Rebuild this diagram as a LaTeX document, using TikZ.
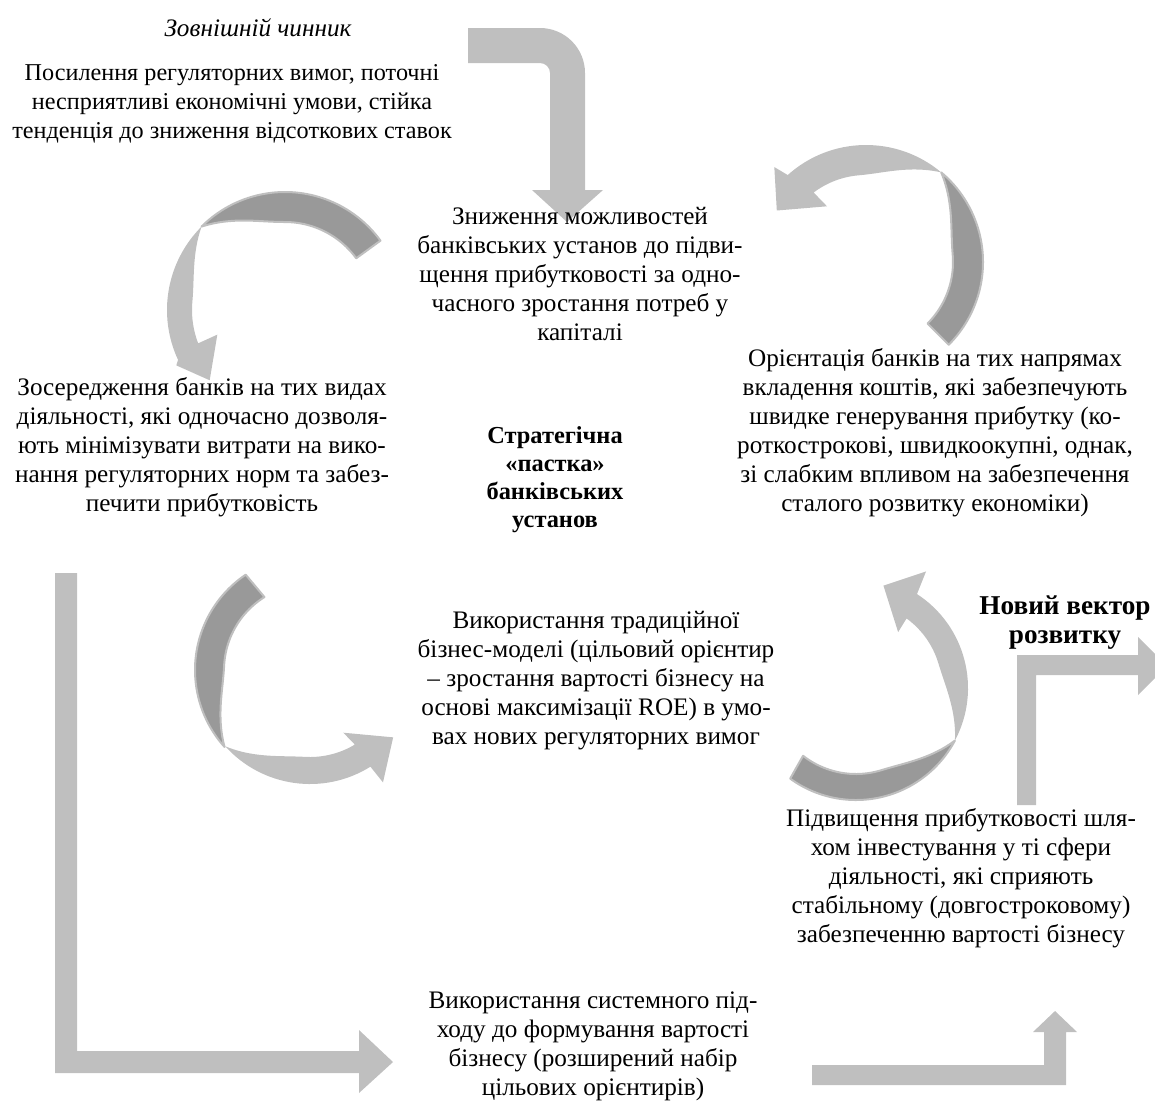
\documentclass[tikz,border=0pt]{standalone}
\usepackage{fontspec}
\setmainfont{Liberation Serif}
\definecolor{arrowlight}{RGB}{191,191,191}
\definecolor{arrowdark}{RGB}{153,153,153}
\begin{document}
\begin{tikzpicture}[x=0.5pt,y=-0.5pt,font=\fontsize{12.6}{14.5}\selectfont]
      \tikzstyle{plain text}=[align=center,inner sep=0pt]
      \tikzstyle{bold text}=[plain text,font=\fontsize{12.2}{14}\selectfont\bfseries]
      \tikzstyle{block arrow}=[fill=arrowlight]
      \tikzstyle{ribbon front}=[fill=arrowlight]
      \tikzstyle{ribbon back}=[fill=arrowdark,draw=arrowlight,line width=1pt,line join=round]

      \useasboundingbox (0,0) rectangle (1155,1109);

      % block arrows
      \fill[block arrow] (468,28) -- (540,28) arc[start angle=-90,end angle=0,radius=45]
          -- (585,190) -- (603,190) -- (567,222) -- (532,190) -- (550,190) -- (550,73)
          arc[start angle=0,end angle=-90,radius=10] -- (468,63) -- cycle;
      \fill[block arrow] (55,573) -- (55,1073) -- (359,1073) -- (359,1093) -- (393,1062)
          -- (359,1030) -- (359,1051) -- (77,1051) -- (77,573) -- cycle;
      \fill[block arrow] (812,1065) -- (1044,1065) -- (1044,1032) -- (1033,1032) -- (1055,1011)
          -- (1077,1032) -- (1066,1032) -- (1066,1085) -- (812,1085) -- cycle;
      \fill[block arrow] (1017,805) -- (1017,655) -- (1138,655) -- (1138,637) -- (1167,666)
          -- (1138,695) -- (1138,675) -- (1036,675) -- (1036,805) -- cycle;

      % circular arrows
      \begin{scope}[shift={(285,310)}]
          \fill[ribbon front] (-135:118) arc[start angle=-135,end angle=-205,radius=118]
              -- (-207:122) -- (-223:103) -- (-200:72) -- (-201:93)
              -- plot[domain=-201:-135,samples=40] (\x:{118-25*sin(min(90,(-135-\x)*2.25))}) -- cycle;
          \filldraw[ribbon back] (-36:118) arc[start angle=-36,end angle=-135,radius=118]
              -- plot[domain=-135:-36,samples=40] (\x:{118-30*sin(min(90,(\x+135)*2))}) -- cycle;
      \end{scope}
      \begin{scope}[shift={(866,262)}]
          \fill[ribbon front] (-50:117) arc[start angle=-50,end angle=-132,radius=117]
              -- (-134:132) -- (-150:103) -- (-125:68) -- (-127:87)
              -- plot[domain=-127:-50,samples=40] (\x:{117-30*sin(min(90,(-50-\x)*2))}) -- cycle;
          \filldraw[ribbon back] (45:117) arc[start angle=45,end angle=-50,radius=117]
              -- plot[domain=-50:45,samples=40] (\x:{117-30*sin(min(90,(\x+50)*2))}) -- cycle;
      \end{scope}
      \begin{scope}[shift={(310,670)}]
          \fill[ribbon front] (138:114) arc[start angle=138,end angle=58,radius=114]
              -- (57:134) -- (39:107) -- (62:71) -- (59:87)
              -- plot[domain=59:138,samples=40] (\x:{114-27*sin(min(90,(138-\x)*2))}) -- cycle;
          \filldraw[ribbon back] (236:115) arc[start angle=236,end angle=138,radius=115]
              -- plot[domain=138:238,samples=40] (\x:{115-29*sin(min(90,(\x-138)*2))}) -- cycle;
      \end{scope}
      \begin{scope}[shift={(856,688)}]
          \fill[ribbon front] (28:112) arc[start angle=28,end angle=-57,radius=112]
              -- (-59:136) -- (-75:106) -- (-53:70) -- (-54:86)
              -- plot[domain=-54:28,samples=40] (\x:{112-26*sin(min(90,(28-\x)*2))}) -- cycle;
          \filldraw[ribbon back] (126:112) arc[start angle=126,end angle=28,radius=112]
              -- plot[domain=28:128,samples=40] (\x:{112-26*sin(min(90,(\x-28)*2))}) -- cycle;
      \end{scope}

      % texts
      \node (factor) [plain text,font=\fontsize{12.6}{14.5}\selectfont\itshape] at (258,28) {Зовнішній чинник};
      \node (external) [plain text,font=\fontsize{12.1}{14.5}\selectfont] at (232,104) {Посилення регуляторних вимог, поточні\\несприятливі економічні умови, стійка\\тенденція до зниження відсоткових ставок};
      \node (decline) [plain text] at (580,274) {Зниження можливостей\\банківських установ до підви-\\щення прибутковості за одно-\\часного зростання потреб у\\капіталі};
      \node (orient) [plain text] at (935,433) {Орієнтація банків на тих напрямах\\вкладення коштів, які забезпечують\\швидке генерування прибутку (ко-\\роткострокові, швидкоокупні, однак,\\зі слабким впливом на забезпечення\\сталого розвитку економіки)};
      \node (focus) [plain text] at (202,447) {Зосередження банків на тих видах\\діяльності, які одночасно дозволя-\\ють мінімізувати витрати на вико-\\нання регуляторних норм та забез-\\печити прибутковість};
      \node (trap) [bold text] at (555,480) {Стратегічна\\«пастка»\\банківських\\установ};
      \node (model) [plain text] at (596,681) {Використання традиційної\\бізнес-моделі (цільовий орієнтир\\– зростання вартості бізнесу на\\основі максимізації ROE) в умо-\\вах нових регуляторних вимог};
      \node (vector) [bold text,font=\fontsize{13.6}{14.5}\selectfont\bfseries] at (1065,623) {Новий вектор\\розвитку};
      \node (profit) [plain text] at (961,878) {Підвищення прибутковості шля-\\хом інвестування у ті сфери\\діяльності, які сприяють\\стабільному (довгостроковому)\\забезпеченню вартості бізнесу};
      \node (system) [plain text] at (593,1046) {Використання системного під-\\ходу до формування вартості\\бізнесу (розширений набір\\цільових орієнтирів)};
\end{tikzpicture}
\end{document}
